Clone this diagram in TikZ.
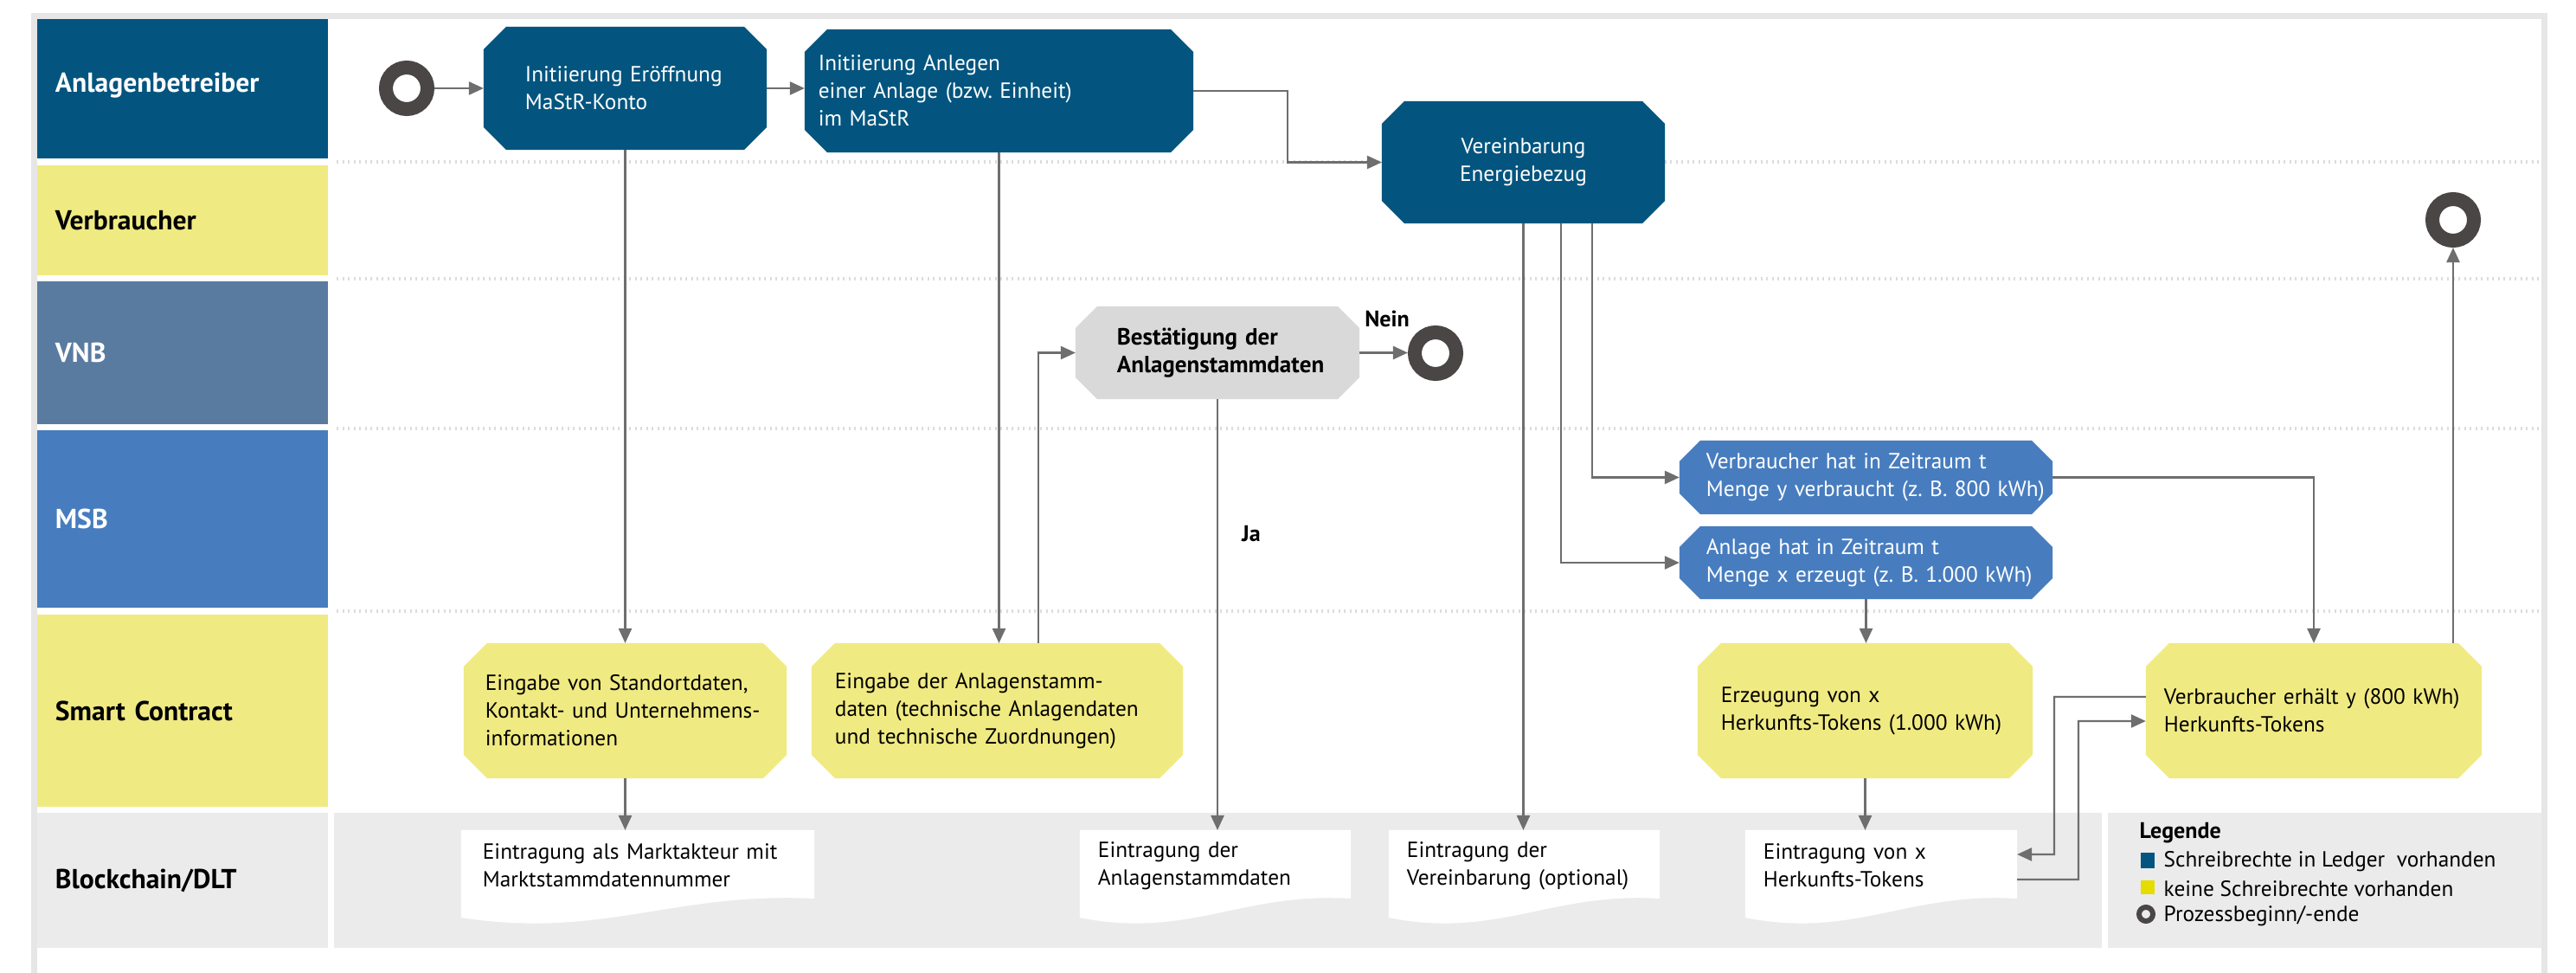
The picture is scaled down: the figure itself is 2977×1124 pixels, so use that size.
\documentclass[tikz,border=0pt]{standalone}
\usepackage{fontspec}
\setmainfont{PT Sans}
\usetikzlibrary{arrows.meta,calc}
\pgfdeclarelayer{lanes}
\pgfdeclarelayer{boxes}
\pgfsetlayers{lanes,boxes,main}
\definecolor{abblue}{HTML}{03557F}
\definecolor{laneyel}{HTML}{F0EA82}
\definecolor{vnbblue}{HTML}{5A7BA0}
\definecolor{msbblue}{HTML}{477DBF}
\definecolor{graybox}{HTML}{D9D9D9}
\definecolor{lanegray}{HTML}{EBEBEB}
\definecolor{linec}{HTML}{6E6E6E}
\definecolor{ringc}{HTML}{4A4646}
\definecolor{legyel}{HTML}{E5DC00}
\definecolor{framec}{HTML}{E6E6E6}
\definecolor{dotc}{HTML}{DCDCDC}
\hyphenpenalty=10000
\exhyphenpenalty=10000
\newcommand\octbox[3]{%
\begin{pgfonlayer}{boxes}
\fill[#2] ([xshift=#3]#1.north west) -- ([xshift=-#3]#1.north east) -- ([yshift=-#3]#1.north east) -- ([yshift=#3]#1.south east) -- ([xshift=-#3]#1.south east) -- ([xshift=#3]#1.south west) -- ([yshift=#3]#1.south west) -- ([yshift=-#3]#1.north west) -- cycle;
\end{pgfonlayer}}
\newcommand\docbox[1]{%
\begin{pgfonlayer}{boxes}
\fill[white] (#1.north west) -- (#1.north east) -- ($(#1.south east)+(0,-3)$) .. controls ($(#1.south east)!0.4!(#1.south west)+(0,-11)$) and ($(#1.south east)!0.6!(#1.south west)+(0,44)$) .. ($(#1.south west)+(0,19)$) -- cycle;
\end{pgfonlayer}}
\begin{document}
\begin{tikzpicture}[x=0.01cm,y=-0.01cm,
 lanelbl/.style={rectangle, inner xsep=0.21cm, inner ysep=0, outer sep=0, text width=2.94cm, align=left, minimum width=3.36cm, font=\fontsize{9}{11}\selectfont\bfseries},
 boxtxt/.style={rectangle, inner ysep=0, outer sep=0, align=left, font=\fontsize{7.2}{9.1}\selectfont},
 arr/.style={draw=linec, line width=0.7pt, -{Triangle[length=0.17cm,width=0.15cm]}},
 ring/.style={circle, draw=ringc, line width=0.16cm, minimum size=0.48cm, inner sep=0},
 boldlbl/.style={inner sep=0, font=\fontsize{7.4}{9}\selectfont\bfseries},
 legtxt/.style={inner sep=0, anchor=west, font=\fontsize{7.2}{9}\selectfont}]
\useasboundingbox (0,0) rectangle (2977,1124);
\begin{pgfonlayer}{lanes}
\fill[white] (0,0) rectangle (2977,1124);
\fill[lanegray] (386,939) rectangle (2429,1095);
\fill[lanegray] (2436,939) rectangle (2937,1095);
\draw[framec, line width=0.07cm] (39.5,1130) -- (39.5,18.5) -- (2940,18.5) -- (2940,1130);
\foreach \yy in {187,322,495,706}
  \draw[dotc, line width=0.035cm, dash pattern=on 0.02cm off 0.045cm] (389,\yy) -- (2937,\yy);
\end{pgfonlayer}
% lane labels
\node[lanelbl, fill=abblue, text=white, minimum height=1.61cm] (lAB) at (211,102.5) {\raisebox{0.14cm}{Anlagenbetreiber}};
\node[lanelbl, fill=laneyel, minimum height=1.27cm] (lV) at (211,254.5) {Verbraucher};
\node[lanelbl, fill=vnbblue, text=white, minimum height=1.65cm] (lVNB) at (211,407.5) {VNB};
\node[lanelbl, fill=msbblue, text=white, minimum height=2.05cm] (lMSB) at (211,599.5) {MSB};
\node[lanelbl, fill=laneyel, minimum height=2.22cm] (lSC) at (211,821) {Smart~Contract};
\node[lanelbl, fill=lanegray, minimum height=1.56cm] (lBC) at (211,1017) {Blockchain/DLT};
% start / end
\node[ring] (start) at (470,102) {};
\node[ring] (end1) at (1659,408) {};
\node[ring] (end2) at (2835,254) {};
% process boxes
\node[boxtxt, text=white, minimum width=3.27cm, minimum height=1.42cm, inner xsep=0.48cm, text width=2.31cm] (b1) at (722.5,102) {Initiierung~Eröffnung\\MaStR-Konto};
\node[boxtxt, text=white, minimum width=4.49cm, minimum height=1.42cm, inner xsep=0.16cm, text width=4.17cm] (b2) at (1154.5,105) {Initiierung~Anlegen\\einer~Anlage~(bzw.~Einheit)\\im~MaStR};
\node[boxtxt, text=white, align=center, minimum width=3.27cm, minimum height=1.41cm, inner xsep=0.2cm, text width=2.87cm] (b3) at (1760.5,187.5) {Vereinbarung\\Energiebezug};
\node[boxtxt, font=\fontsize{7.7}{9.3}\selectfont\bfseries, minimum width=3.28cm, minimum height=1.07cm, inner xsep=0.48cm, text width=2.32cm] (vb) at (1407,407.5) {Bestätigung~der\\Anlagenstammdaten};
\node[boxtxt, text=white, minimum width=4.31cm, minimum height=0.85cm, inner xsep=0.31cm, text width=3.69cm] (m1) at (2156.5,551.5) {Verbraucher~hat~in~Zeitraum~t\\Menge~y~verbraucht~(z.~B.~800~kWh)};
\node[boxtxt, text=white, minimum width=4.31cm, minimum height=0.84cm, inner xsep=0.31cm, text width=3.69cm] (m2) at (2156.5,650) {Anlage~hat~in~Zeitraum~t\\Menge~x~erzeugt~(z.~B.~1.000~kWh)};
\node[boxtxt, minimum width=3.73cm, minimum height=1.56cm, inner xsep=0.25cm, text width=3.23cm] (s1) at (722.5,821) {Eingabe~von~Standortdaten,\\Kontakt-~und~Unternehmens-\\informationen};
\node[boxtxt, minimum width=4.29cm, minimum height=1.56cm, inner xsep=0.27cm, text width=3.75cm] (s2) at (1152.5,821) {Eingabe~der~Anlagenstamm-\\daten~(technische~Anlagendaten\\und~technische~Zuordnungen)};
\node[boxtxt, minimum width=3.87cm, minimum height=1.56cm, inner xsep=0.27cm, text width=3.33cm] (s3) at (2155.5,821) {Erzeugung~von~x\\Herkunfts-Tokens~(1.000~kWh)};
\node[boxtxt, minimum width=3.88cm, minimum height=1.56cm, inner xsep=0.21cm, text width=3.46cm] (s4) at (2674,821) {Verbraucher~erhält~y~(800~kWh)\\Herkunfts-Tokens};
% documents
\node[boxtxt, minimum width=4.08cm, minimum height=0.82cm, inner xsep=0.25cm, text width=3.58cm] (d1) at (737,1000) {Eintragung~als~Marktakteur~mit\\Marktstammdatennummer};
\node[boxtxt, minimum width=3.13cm, minimum height=0.82cm, inner xsep=0.21cm, text width=2.71cm] (d2) at (1404.5,1000) {Eintragung~der\\Anlagenstammdaten};
\node[boxtxt, minimum width=3.13cm, minimum height=0.82cm, inner xsep=0.21cm, text width=2.71cm] (d3) at (1761.5,1000) {Eintragung~der\\Vereinbarung~(optional)};
\node[boxtxt, minimum width=3.14cm, minimum height=0.82cm, inner xsep=0.21cm, text width=2.72cm] (d4) at (2174,1000) {Eintragung~von~x\\Herkunfts-Tokens};
\octbox{b1}{abblue}{0.26cm}
\octbox{b2}{abblue}{0.26cm}
\octbox{b3}{abblue}{0.26cm}
\octbox{vb}{graybox}{0.25cm}
\octbox{m1}{msbblue}{0.24cm}
\octbox{m2}{msbblue}{0.24cm}
\octbox{s1}{laneyel}{0.27cm}
\octbox{s2}{laneyel}{0.27cm}
\octbox{s3}{laneyel}{0.27cm}
\octbox{s4}{laneyel}{0.27cm}
\docbox{d1}
\docbox{d2}
\docbox{d3}
\docbox{d4}
% connectors
\draw[arr] (start.east) -- (b1.west);
\draw[arr] (b1.east) -- (b1.east -| b2.west);
\draw[arr] (b2.east) -- ++(109,0) |- (b3.west);
\draw[arr] (b1.south) -- (b1.south |- s1.north);
\draw[arr] (s1.south) -- (s1.south |- d1.north);
\draw[arr] (b2.south) -- (b2.south |- s2.north);
\draw[arr] ([xshift=0.475cm]s2.north) |- (vb.west);
\draw[arr] (vb.east) -- (vb.east -| end1.west);
\node[boldlbl] (nein) at (1603,368) {Nein};
\draw[arr] (vb.south) -- (vb.south |- d2.north);
\node[boldlbl] (ja) at (1446,617) {Ja};
\draw[arr] (b3.south) -- (b3.south |- d3.north);
\draw[arr] ([xshift=0.435cm]b3.south) |- (m2.west);
\draw[arr] ([xshift=0.795cm]b3.south) |- (m1.west);
\draw[arr] (m1.east) -| (s4.north);
\draw[arr] (m2.south) -- (m2.south |- s3.north);
\draw[arr] (s3.south) -- (s3.south |- d4.north);
\coordinate (k2) at (2374,805);
\draw[arr] ([yshift=0.16cm]s4.west) -- (k2) |- ([yshift=0.13cm]d4.east);
\coordinate (k3) at (2402,1016);
\draw[arr] ([yshift=-0.16cm]d4.east) -- (k3) |- ([yshift=-0.12cm]s4.west);
\draw[arr] (end2.south |- s4.north) -- (end2.south);
% legend
\node[boldlbl, anchor=west] (legT) at (2472,962) {Legende};
\node[fill=abblue, minimum width=0.16cm, minimum height=0.18cm, inner sep=0] (leg1) at (2482,994) {};
\node[legtxt] (leg1t) at (2500,995) {Schreibrechte in Ledger\ \ vorhanden};
\node[fill=legyel, minimum width=0.16cm, minimum height=0.16cm, inner sep=0] (leg2) at (2482,1025) {};
\node[legtxt] (leg2t) at (2500,1027) {keine Schreibrechte vorhanden};
\node[circle, draw=ringc, line width=0.06cm, minimum size=0.16cm, inner sep=0] (leg3) at (2480,1056) {};
\node[legtxt] (leg3t) at (2500,1058) {Prozessbeginn/-ende};
\end{tikzpicture}
\end{document}
